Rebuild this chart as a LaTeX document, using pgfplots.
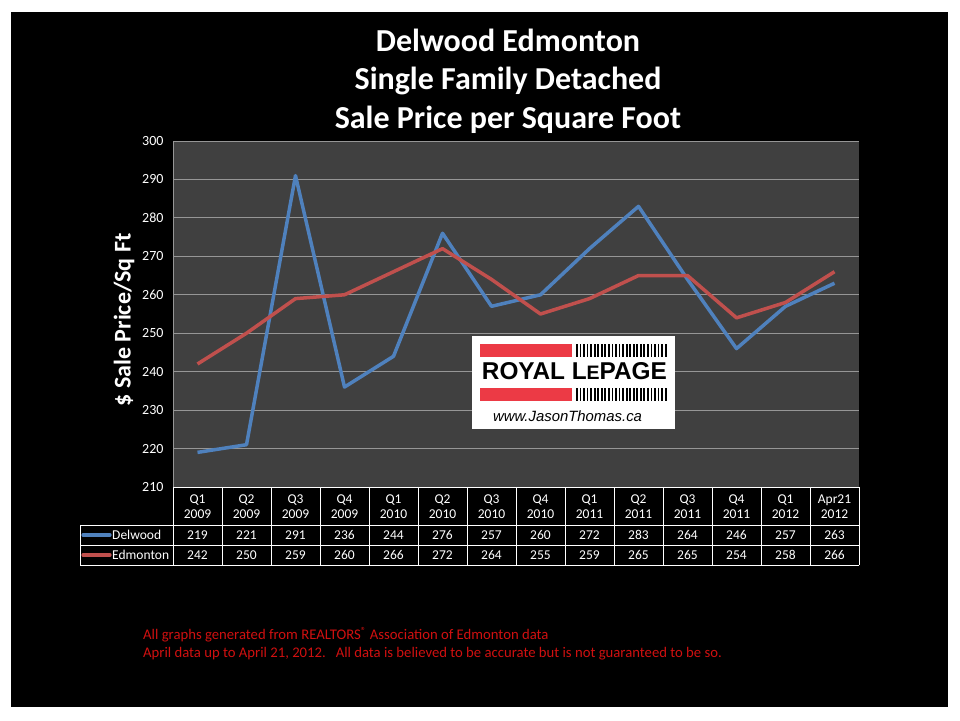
\documentclass[border=0pt]{standalone}
\usepackage{fontspec}
\setmainfont{Carlito}
\newfontfamily\logofont{Liberation Sans}
\usepackage{graphicx}
\usepackage{pgfplots}
\pgfplotsset{compat=1.18}
\definecolor{plotgray}{HTML}{404040}
\definecolor{gridgray}{HTML}{969696}
\definecolor{delblue}{HTML}{4F81BD}
\definecolor{edmred}{HTML}{C0504D}
\definecolor{notered}{HTML}{D01010}
\definecolor{logored}{HTML}{EC3A45}

\begin{document}
\begin{tikzpicture}[x=1pt,y=1pt]
  % page and slide background
  \fill[white] (0,0) rectangle (960,720);
  \fill[black] (11,13) rectangle (948,708);

  \begin{axis}[
    at={(173pt,233pt)}, anchor=south west,
    scale only axis, width=686pt, height=346pt,
    xmin=-0.5, xmax=13.5, ymin=210, ymax=300,
    xtick=\empty, ytick={210,220,...,300},
    axis lines*=left, axis line style={-, draw=gridgray, line width=0.8pt},
    axis background/.style={fill=plotgray},
    ymajorgrids, grid style={draw=gridgray, line width=0.8pt},
    major tick length=0pt,
    yticklabel style={text=white, font=\fontsize{14}{14}\selectfont, xshift=-6pt},
    /pgf/number format/assume math mode=true,
    clip=false,
  ]
    % Delwood
    \addplot[delblue, line width=3.5pt, line join=round] coordinates {
      (0,219) (1,221) (2,291) (3,236) (4,244) (5,276) (6,257)
      (7,260) (8,272) (9,283) (10,264) (11,246) (12,257) (13,263)};
    % Edmonton
    \addplot[edmred, line width=3.5pt, line join=round] coordinates {
      (0,242) (1,250) (2,259) (3,260) (4,266) (5,272) (6,264)
      (7,255) (8,259) (9,265) (10,265) (11,254) (12,258) (13,266)};
  \end{axis}

  % title
  \node[white, font=\fontsize{32}{38.5}\selectfont\bfseries, align=center]
    at (508,639) {Delwood Edmonton\\Single Family Detached\\Sale Price per Square Foot};

  % y label
  \node[white, rotate=90, font=\fontsize{24}{24}\selectfont\bfseries]
    at (124,400) {\$ Sale Price/Sq Ft};

  % data table grid
  \begin{scope}[draw=white, line width=0.9pt]
    \draw (173,233) -- (859,233);
    \draw (80,195) -- (859,195);
    \draw (80,175) -- (859,175);
    \draw (80,155) -- (859,155);
    \draw (80,195) -- (80,155);
    \foreach \k in {0,...,14} \draw ({173+49*\k},233) -- ({173+49*\k},155);
  \end{scope}

  % table header and values
  \foreach \t [count=\i from 0] in {Q1\\2009,Q2\\2009,Q3\\2009,Q4\\2009,Q1\\2010,Q2\\2010,Q3\\2010,Q4\\2010,Q1\\2011,Q2\\2011,Q3\\2011,Q4\\2011,Q1\\2012,Apr21\\2012}
    \node[white, align=center, font=\fontsize{13.5}{15.5}\selectfont] at ({197.5+49*\i},213.5) {\t};
  \foreach \v [count=\i from 0] in {219,221,291,236,244,276,257,260,272,283,264,246,257,263}
    \node[white, font=\fontsize{13.5}{13.5}\selectfont] at ({197.5+49*\i},185) {\v};
  \foreach \v [count=\i from 0] in {242,250,259,260,266,272,264,255,259,265,265,254,258,266}
    \node[white, font=\fontsize{13.5}{13.5}\selectfont] at ({197.5+49*\i},165) {\v};

  % legend keys in table
  \draw[delblue, line width=3.2pt, line cap=round] (83,185) -- (110,185);
  \draw[edmred, line width=3.2pt, line cap=round] (83,165) -- (110,165);
  \node[white, anchor=west, inner sep=0pt, font=\fontsize{13.5}{13.5}\selectfont] at (112,185) {Delwood};
  \node[white, anchor=west, inner sep=0pt, font=\fontsize{13.5}{13.5}\selectfont] at (112,165) {Edmonton};

  % logo
  \fill[white] (472,290.5) rectangle (675,383.5);
  \fill[logored] (480,362.7) rectangle (571.7,376);
  \fill[logored] (480,319.3) rectangle (571.7,332);
  \foreach \s in {0,...,25} {
    \fill[black] ({576+3.55*\s},362.7) rectangle ({577.8+3.55*\s},376);
    \fill[black] ({576+3.55*\s},319.3) rectangle ({577.8+3.55*\s},332);
  }
  \node[black, inner sep=0pt, anchor=south west] at (481.7,340)
    {\resizebox{185pt}{17pt}{\logofont\bfseries ROYAL L{\fontsize{8}{8}\selectfont E}PAGE}};
  \node[black, inner sep=0pt] at (567.5,303.5)
    {\resizebox{149pt}{!}{\logofont\itshape www.JasonThomas.ca}};

  % footnote
  \node[notered, anchor=north west, align=left, inner sep=0pt, font=\fontsize{14.7}{18}\selectfont]
    at (143,93) {All graphs generated from REALTORS\textsuperscript{\textregistered} Association of Edmonton data\\
    April data up to April 21, 2012.\ \ \ All data is believed to be accurate but is not guaranteed to be so.};
\end{tikzpicture}
\end{document}
